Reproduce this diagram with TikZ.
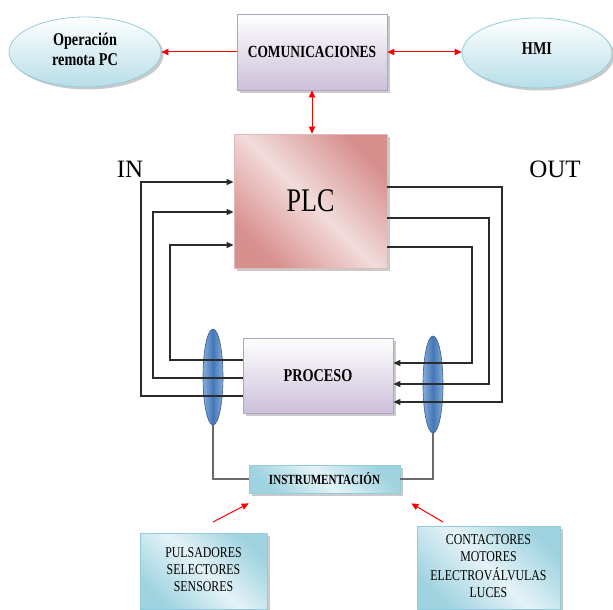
\documentclass[tikz,border=0pt]{standalone}
\usepackage{fontspec}
\usepackage{graphicx}
\setmainfont{Liberation Serif}
\usetikzlibrary{arrows.meta,shapes.geometric,shadows}

% horizontally narrowed serif text, as used in the box labels
\newcommand{\narrow}[1]{\scalebox{0.79}[1]{#1}}

\definecolor{lilac}{HTML}{CCC0DA}
\definecolor{lilacedge}{HTML}{B3A2C7}
\definecolor{plcdark}{HTML}{D68F8D}
\definecolor{plclight}{HTML}{F2DCDB}
\definecolor{plcedge}{HTML}{E6B9B8}
\definecolor{sky}{HTML}{B7DEE8}
\definecolor{skyedge}{HTML}{93CDDD}
\definecolor{aqualight}{HTML}{E4F3F7}
\definecolor{aquadark}{HTML}{A0D3E0}
\definecolor{lensmid}{HTML}{4377B8}
\definecolor{lenslight}{HTML}{88ACDA}
\definecolor{lensedge}{HTML}{385D8A}
\definecolor{wirecol}{HTML}{2B2B2B}
\definecolor{leadcol}{HTML}{6A6A6A}

\begin{document}
\begin{tikzpicture}[x=1pt,y=-1pt,
  boxshadow/.style={drop shadow={shadow xshift=2.5pt,shadow yshift=-2.5pt,opacity=0.35,fill=black!60}},
  lilacbox/.style={rectangle,draw=lilacedge,line width=0.8pt,top color=white,bottom color=lilac,
    boxshadow,inner sep=0pt,font=\bfseries\fontsize{17}{20}\selectfont},
  skyoval/.style={ellipse,draw=skyedge,line width=0.8pt,top color=white,bottom color=sky,
    boxshadow,inner sep=0pt,font=\bfseries\fontsize{18}{20}\selectfont},
  aquabox/.style={rectangle,draw=skyedge,line width=0.8pt,left color=aquadark,right color=aquadark,
    middle color=aqualight,shading angle=-45,boxshadow,inner sep=0pt},
  lens/.style={ellipse,draw=lensedge,line width=0.6pt,left color=lenslight,right color=lenslight,
    middle color=lensmid,inner sep=0pt,minimum width=20pt},
  wire/.style={draw=wirecol,line width=1.1pt},
  wirein/.style={wire,-{Triangle[length=7pt,width=6pt]}},
  leadline/.style={draw=leadcol,line width=1.2pt},
  redlink/.style={draw=red,line width=1pt},
  redtip/.style={-{Triangle[length=7pt,width=6.5pt]}},
  redboth/.style={{Triangle[length=7pt,width=6.5pt]}-{Triangle[length=7pt,width=6.5pt]}},
  biglabel/.style={font=\fontsize{25}{28}\selectfont,anchor=base,inner sep=0pt}]

\useasboundingbox (0,0) rectangle (613,610);

% top row: communications and its two partners
\node[lilacbox,minimum width=150pt,minimum height=76pt] (com) at (312,52) {\narrow{COMUNICACIONES}};
\node[skyoval,minimum width=152pt,minimum height=70pt] (opr) at (85,52)
  {\begin{tabular}{@{}c@{}}\narrow{Operación}\\\narrow{remota PC}\end{tabular}};
\node[skyoval,minimum width=150pt,minimum height=70pt] (hmi) at (537,53) {\raisebox{8pt}{\narrow{HMI}}};

% controller
\node[rectangle,draw=plcedge,line width=0.8pt,left color=plcdark,right color=plcdark,middle color=plclight,
  shading angle=-45,boxshadow,minimum width=153pt,minimum height=134pt,inner sep=0pt,
  font=\fontsize{33}{36}\selectfont] (plc) at (310.5,201) {\narrow{PLC}};

% process
\node[lilacbox,minimum width=150pt,minimum height=75pt,font=\bfseries\fontsize{18}{20}\selectfont]
  (proc) at (318,375.5) {\narrow{PROCESO}};

% signal bundles
\node[lens,minimum height=96pt] (lensL) at (213,377) {};
\node[lens,minimum height=97pt] (lensR) at (433,384.5) {};

% instrumentation and field devices
\node[aquabox,minimum width=151pt,minimum height=28pt,font=\bfseries\fontsize{14}{16}\selectfont]
  (instr) at (324.5,479) {\narrow{INSTRUMENTACIÓN}};
\node[aquabox,minimum width=127pt,minimum height=76pt,font=\fontsize{15}{17}\selectfont]
  (sens) at (203.5,571)
  {\raisebox{6pt}{\begin{tabular}{@{}c@{}}\narrow{PULSADORES}\\\narrow{SELECTORES}\\\narrow{SENSORES}\end{tabular}}};
\node[aquabox,minimum width=143pt,minimum height=83pt,font=\fontsize{15}{17.5}\selectfont]
  (act) at (488.5,567.5)
  {\begin{tabular}{@{}c@{}}\narrow{CONTACTORES}\\\narrow{MOTORES}\\\narrow{ELECTROVÁLVULAS}\\\narrow{LUCES}\end{tabular}};

% IN / OUT captions
\node[biglabel] (inlbl) at (130,177) {IN};
\node[biglabel] (outlbl) at (555,177) {OUT};

% communication links
\draw[redlink,redtip] (com.west) -- (opr.east);
\draw[redlink,redboth] (com.east) -- (com.east -| hmi.west);
\draw[redlink,redboth] (com.south) -- (com.south |- plc.north);

% inputs: process -> PLC
\draw[wirein] (proc.west |- 0,396) -- (141,396) -- (141,182) -- (plc.west |- 0,182);
\draw[wirein] (proc.west |- 0,378) -- (153,378) -- (153,212) -- (plc.west |- 0,212);
\draw[wirein] (proc.west |- 0,360) -- (170,360) -- (170,245) -- (plc.west |- 0,245);

% outputs: PLC -> process
\draw[wirein] (plc.east |- 0,187) -- (502,187) -- (502,402) -- (proc.east |- 0,402);
\draw[wirein] (plc.east |- 0,218) -- (489,218) -- (489,384) -- (proc.east |- 0,384);
\draw[wirein] (plc.east |- 0,247) -- (472,247) -- (472,363) -- (proc.east |- 0,363);

% bundles down to instrumentation
\draw[leadline] (lensL.south) |- (instr.west);
\draw[leadline] (lensR.south) |- (instr.east);

% field devices feeding instrumentation
\coordinate (sensfrom) at (213,522);
\coordinate (actfrom) at (443,522);
\draw[redlink,redtip] (sensfrom) -- ([yshift=-10pt]instr.south west);
\draw[redlink,redtip] (actfrom) -- ([xshift=11pt,yshift=-10pt]instr.south east);
\end{tikzpicture}
\end{document}
